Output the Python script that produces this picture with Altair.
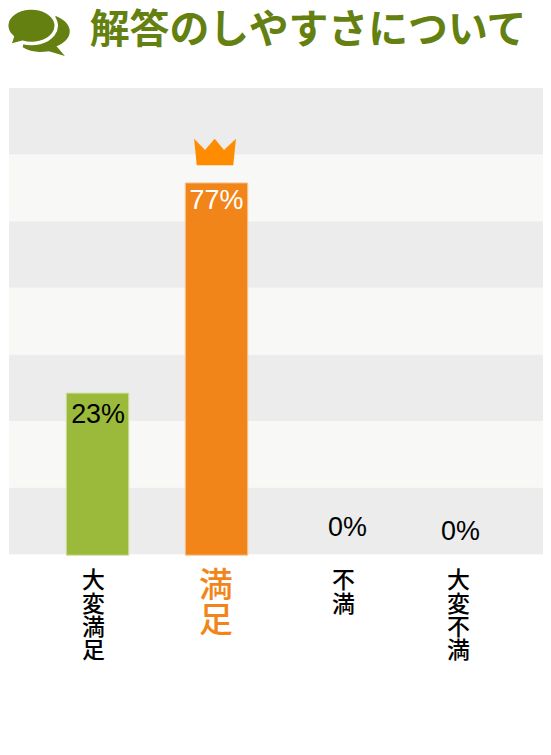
import altair as alt
import pandas as pd

categories = ["大変満足", "満足", "不満", "大変不満"]
values = [23, 77, 0, 0]
bar_colors = ["#9bba3b", "#f2851a", "#9bba3b", "#9bba3b"]
bar_edges = ["#cfdfa0", "#f8c998", "#cfdfa0", "#cfdfa0"]
band_tones = ["dark", "light", "dark", "light", "dark", "light", "dark"]
title_text = "解答のしやすさについて"

W, H = 536, 468
df = pd.DataFrame({"cat": categories, "v": values})
df["label"] = ["\n".join(c) for c in categories]
df["pct"] = [f"{v}%" for v in values]
bands = pd.DataFrame({"b0": range(7), "b1": range(1, 8), "tone": band_tones})

x = alt.X("cat:N", sort=categories, axis=None,
          scale=alt.Scale(domain=categories, paddingInner=0.475, paddingOuter=0.4815))
yscale = alt.Scale(domain=[0, 23, 77, 100], range=[469, 306.3, 95.3, 0])
y = alt.Y("v:Q", axis=None, scale=yscale)

band_layer = alt.Chart(bands).mark_rect().encode(
    x=alt.value(0), x2=alt.value(W),
    y=alt.Y("b0:Q", axis=None, scale=alt.Scale(domain=[0, 7], nice=False)),
    y2="b1:Q",
    color=alt.Color("tone:N", legend=None,
                    scale=alt.Scale(domain=["dark", "light"], range=["#ececec", "#f8f8f6"])),
)

bar_layer = alt.Chart(df).transform_filter("datum.v > 0").mark_bar(strokeWidth=1).encode(
    x=x, y=y,
    y2=alt.datum(0),
    color=alt.Color("cat:N", legend=None, scale=alt.Scale(domain=categories, range=bar_colors)),
    stroke=alt.Stroke("cat:N", legend=None, scale=alt.Scale(domain=categories, range=bar_edges)),
)

CROWN = "M-1,-0.635 L-0.476,-0.095 L-0.016,-0.635 L0.43,-0.095 L1,-0.635 L0.873,0.635 L-0.873,0.635 Z"
crown_layer = alt.Chart(df).transform_filter("datum.cat == '満足'").mark_point(
    shape=CROWN, filled=True, size=1764, color="#ff8c00", opacity=1, strokeWidth=0, yOffset=-31, xOffset=-1.5
).encode(x=x, y=y)

layers = [band_layer, bar_layer, crown_layer]

pct_style = {0: (0.5, 29.7, "#000000"), 1: (0, 26.7, "#ffffff"), 2: (12, -19, "#000000"), 3: (6, -15, "#000000")}
lab_dx = {0: -4, 1: -0.5, 2: 8, 3: 4}
for i, c in enumerate(categories):
    dx, dy, col = pct_style[i]
    layers.append(
        alt.Chart(df).transform_filter(f"datum.cat == '{c}'").mark_text(
            font="Liberation Sans", fontSize=27, color=col, dx=dx, dy=dy,
            align="center", baseline="alphabetic"
        ).encode(x=x, y=y, text="pct:N")
    )
    big = c == "満足"
    layers.append(
        alt.Chart(df).transform_filter(f"datum.cat == '{c}'").mark_text(
            font="Noto Sans CJK JP", fontSize=34 if big else 23, lineHeight=35 if big else 23.5,
            lineBreak="\n", color="#f2851a" if big else "#000000", dx=lab_dx[i],
            fontWeight=500, align="center", baseline="top"
        ).encode(x=x, y=alt.value(484), text="label:N")
    )

title_layer = alt.Chart(pd.DataFrame({"t": [title_text]})).mark_text(
    font="Noto Sans CJK JP", fontSize=40, fontWeight="bold", color="#648010",
    align="left", baseline="alphabetic"
).encode(x=alt.value(81), y=alt.value(-45), text="t:N")

BACK = ("M-0.35,0.52 L-0.2,-0.2 L0.62,-0.37 C0.9,-0.25 1,-0.08 1,0.06 C1,0.25 0.85,0.4 0.62,0.49 "
        "L0.86,0.77 L0.4,0.63 C0.1,0.68 -0.15,0.65 -0.35,0.52 Z")
FRONT = ("M-0.65,0.222 A0.71,0.51 0 1 1 -0.36,0.375 L-0.76,0.48 Q-0.68,0.36 -0.65,0.222 Z")
icon = pd.DataFrame({"n": [1]})
back = alt.Chart(icon).mark_point(shape=BACK, filled=True, size=4900, color="#648010", opacity=1, strokeWidth=0).encode(
    x=alt.value(26), y=alt.value(-59))
front = alt.Chart(icon).mark_point(shape=FRONT, filled=True, size=4900, fill="#648010", opacity=1, stroke="#ffffff", strokeOpacity=1, strokeWidth=3.5).encode(
    x=alt.value(26), y=alt.value(-59))
layers += [title_layer, back, front]

chart = alt.layer(*layers).resolve_scale(y="independent", color="independent", stroke="independent").properties(
    width=W, height=H,
    padding={"left": 1, "top": 79, "right": 0, "bottom": 120},
    autosize=alt.AutoSizeParams(type="none"),
).configure_view(stroke=None)

chart.save("out.html", embed_options={"renderer": "svg", "actions": False})
